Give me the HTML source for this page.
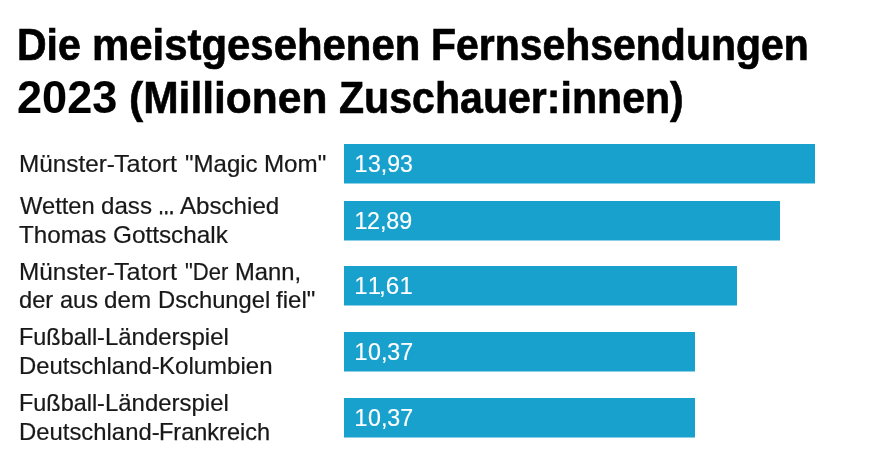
<!DOCTYPE html>
<html lang="de">
<head>
<meta charset="utf-8">
<title>Die meistgesehenen Fernsehsendungen 2023</title>
<style>
html,body{margin:0;padding:0;background:#fff}
body{width:876px;height:468px;position:relative;overflow:hidden;font-family:"Liberation Sans",sans-serif;color:#181818}
.chart{position:absolute;left:0;top:0;width:876px;height:468px}
h1{margin:0;font-size:44px;line-height:52px;font-weight:700;color:#000;-webkit-text-stroke:0.6px #000}
.ln{position:absolute;left:0;display:block;white-space:nowrap}
h1 .ln{height:52px}
.lbl .ln,.val{height:30px;font-size:24px;line-height:30px;font-weight:400}
.lbl .ln{-webkit-text-stroke:0.2px #181818}
.w{position:absolute;top:0;transform-origin:0 0;white-space:nowrap;display:block}
.lbl .ln .el{-webkit-text-stroke:1px #181818}
.bar{position:absolute;left:344px;height:39px;background:#18a1cd;border-bottom:1px solid #8bd0e6}
.val{position:absolute;left:0;color:#fff;display:block;white-space:nowrap;-webkit-text-stroke:0.15px #fff}
</style>
</head>
<body>
<div class="chart">
<h1>
  <span class="ln" style="top:19px"><span class="w" style="left:17.39px;transform:scaleX(0.9312);-webkit-text-stroke-width:0.71px">Die</span> <span class="w" style="left:91.58px;transform:scaleX(0.9523);-webkit-text-stroke-width:0.66px">meistgesehenen</span> <span class="w" style="left:431.03px;transform:scaleX(0.9307);-webkit-text-stroke-width:0.69px">Fernsehsendungen</span></span>
  <span class="ln" style="top:72px"><span class="w" style="left:17.17px;transform:scale(1.0243,1.045);-webkit-text-stroke-width:0.08px;transform-origin:0 41px">2023</span> <span class="w" style="left:129.18px;transform:scaleX(0.9665);-webkit-text-stroke-width:0.54px">(Millionen</span> <span class="w" style="left:339.19px;transform:scaleX(0.9340);-webkit-text-stroke-width:0.61px">Zuschauer:innen)</span></span>
</h1>
<div class="row">
  <div class="lbl">
    <span class="ln" style="top:149px"><span class="w" style="left:19.28px;transform:scaleX(1.0119);-webkit-text-stroke-width:0.22px">Münster-</span><span class="w" style="left:114.45px;transform:scaleX(1.0518);-webkit-text-stroke-width:0.14px">Tatort</span> <span class="w" style="left:185.10px;transform:scaleX(1.0013);-webkit-text-stroke-width:0.22px">"Magic</span> <span class="w" style="left:263.86px;transform:scaleX(1.0066);-webkit-text-stroke-width:0.22px">Mom"</span></span>
  </div>
  <div class="bar" style="top:144px;width:471px"><span class="val" style="top:5px"><span class="w" style="left:10.33px;transform:scaleX(1.0000);-webkit-text-stroke-width:0.08px">1</span><span class="w" style="left:23.52px;transform:scaleX(0.9591);-webkit-text-stroke-width:0.13px">3,93</span></span></div>
</div>
<div class="row">
  <div class="lbl">
    <span class="ln" style="top:191px"><span class="w" style="left:19.68px;transform:scaleX(0.9877);-webkit-text-stroke-width:0.21px">Wetten</span> <span class="w" style="left:100.59px;transform:scaleX(1.0057);-webkit-text-stroke-width:0.19px">dass</span> <span class="w el" style="left:157.68px;transform:scaleX(0.6908)">…</span> <span class="w" style="left:179.92px;transform:scaleX(1.0049);-webkit-text-stroke-width:0.22px">Abschied</span></span>
    <span class="ln" style="top:220px"><span class="w" style="left:19.30px;transform:scaleX(1.0074);-webkit-text-stroke-width:0.23px">Thomas</span> <span class="w" style="left:112.95px;transform:scaleX(1.0126);-webkit-text-stroke-width:0.20px">Gottschalk</span></span>
  </div>
  <div class="bar" style="top:201px;width:436px"><span class="val" style="top:5px"><span class="w" style="left:10.33px;transform:scaleX(1.0000);-webkit-text-stroke-width:0.08px">1</span><span class="w" style="left:23.15px;transform:scaleX(0.9672);-webkit-text-stroke-width:0.19px">2,89</span></span></div>
</div>
<div class="row">
  <div class="lbl">
    <span class="ln" style="top:257px"><span class="w" style="left:19.28px;transform:scaleX(1.0119);-webkit-text-stroke-width:0.22px">Münster-</span><span class="w" style="left:114.45px;transform:scaleX(1.0518);-webkit-text-stroke-width:0.14px">Tatort</span> <span class="w" style="left:185.16px;transform:scaleX(0.9183);-webkit-text-stroke-width:0.21px">"Der</span> <span class="w" style="left:234.62px;transform:scaleX(0.9898);-webkit-text-stroke-width:0.25px">Mann,</span></span>
    <span class="ln" style="top:285px"><span class="w" style="left:19.31px;transform:scaleX(0.9872);-webkit-text-stroke-width:0.24px">der</span> <span class="w" style="left:60.04px;transform:scaleX(0.9789);-webkit-text-stroke-width:0.24px">aus</span> <span class="w" style="left:104.27px;transform:scaleX(1.0071);-webkit-text-stroke-width:0.22px">dem</span> <span class="w" style="left:157.55px;transform:scaleX(0.9901);-webkit-text-stroke-width:0.20px">Dschungel</span> <span class="w" style="left:276.30px;transform:scaleX(1.0015);-webkit-text-stroke-width:0.23px">fiel"</span></span>
  </div>
  <div class="bar" style="top:266px;width:393px"><span class="val" style="top:5px"><span class="w" style="left:10.33px;transform:scaleX(1.0000);-webkit-text-stroke-width:0.08px">1</span><span class="w" style="left:23.82px;transform:scaleX(1.0000);-webkit-text-stroke-width:0.08px">1</span><span class="w" style="left:35.09px;transform:scaleX(1.0076);-webkit-text-stroke-width:0.15px">,6</span><span class="w" style="left:55.52px;transform:scaleX(1.0000);-webkit-text-stroke-width:0.08px">1</span></span></div>
</div>
<div class="row">
  <div class="lbl">
    <span class="ln" style="top:322px"><span class="w" style="left:19.35px;transform:scaleX(0.9758);-webkit-text-stroke-width:0.24px">Fußball-</span><span class="w" style="left:104.65px;transform:scaleX(0.9973);-webkit-text-stroke-width:0.22px">Länderspiel</span></span>
    <span class="ln" style="top:351px"><span class="w" style="left:19.31px;transform:scaleX(0.9945);-webkit-text-stroke-width:0.18px">Deutschland-</span><span class="w" style="left:159.34px;transform:scaleX(1.0014);-webkit-text-stroke-width:0.21px">Kolumbien</span></span>
  </div>
  <div class="bar" style="top:332px;width:351px"><span class="val" style="top:5px"><span class="w" style="left:10.33px;transform:scaleX(1.0000);-webkit-text-stroke-width:0.08px">1</span><span class="w" style="left:23.89px;transform:scaleX(0.9675);-webkit-text-stroke-width:0.16px">0,37</span></span></div>
</div>
<div class="row">
  <div class="lbl">
    <span class="ln" style="top:388px"><span class="w" style="left:19.35px;transform:scaleX(0.9758);-webkit-text-stroke-width:0.24px">Fußball-</span><span class="w" style="left:104.65px;transform:scaleX(0.9973);-webkit-text-stroke-width:0.22px">Länderspiel</span></span>
    <span class="ln" style="top:417px"><span class="w" style="left:19.31px;transform:scaleX(0.9945);-webkit-text-stroke-width:0.18px">Deutschland-</span><span class="w" style="left:159.38px;transform:scaleX(0.9795);-webkit-text-stroke-width:0.25px">Frankreich</span></span>
  </div>
  <div class="bar" style="top:398px;width:351px"><span class="val" style="top:5px"><span class="w" style="left:10.33px;transform:scaleX(1.0000);-webkit-text-stroke-width:0.08px">1</span><span class="w" style="left:23.89px;transform:scaleX(0.9675);-webkit-text-stroke-width:0.16px">0,37</span></span></div>
</div>
</div>
</body>
</html>
